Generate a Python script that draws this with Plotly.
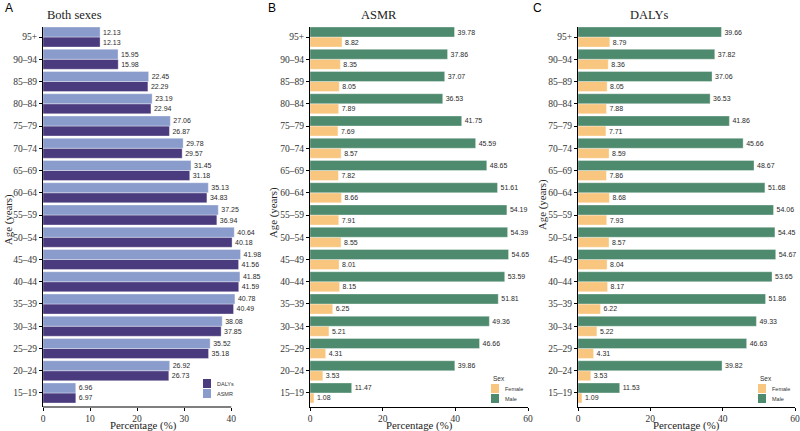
import plotly.graph_objects as go

# age groups, top to bottom as printed
ages = ["95+", "90–94", "85–89", "80–84", "75–79", "70–74", "65–69", "60–64", "55–59",
        "50–54", "45–49", "40–44", "35–39", "30–34", "25–29", "20–24", "15–19"]

# panel A: both sexes
both_asmr = [12.13, 15.95, 22.45, 23.19, 27.06, 29.78, 31.45, 35.13, 37.25,
             40.64, 41.98, 41.85, 40.78, 38.08, 35.52, 26.92, 6.96]
both_dalys = [12.13, 15.98, 22.29, 22.94, 26.87, 29.57, 31.18, 34.83, 36.94,
              40.18, 41.56, 41.59, 40.49, 37.85, 35.18, 26.73, 6.97]

# panel B: ASMR by sex
asmr_male = [39.78, 37.86, 37.07, 36.53, 41.75, 45.59, 48.65, 51.61, 54.19,
             54.39, 54.65, 53.59, 51.81, 49.36, 46.66, 39.86, 11.47]
asmr_female = [8.82, 8.35, 8.05, 7.89, 7.69, 8.57, 7.82, 8.66, 7.91,
               8.55, 8.01, 8.15, 6.25, 5.21, 4.31, 3.53, 1.08]

# panel C: DALYs by sex
dalys_male = [39.66, 37.82, 37.06, 36.53, 41.86, 45.66, 48.67, 51.68, 54.06,
              54.45, 54.67, 53.65, 51.86, 49.33, 46.63, 39.82, 11.53]
dalys_female = [8.79, 8.36, 8.05, 7.88, 7.71, 8.59, 7.86, 8.68, 7.93,
                8.57, 8.04, 8.17, 6.22, 5.22, 4.31, 3.53, 1.09]

W, H = 800, 431
SERIF = "Liberation Serif, Times New Roman, serif"
SANS = "Liberation Sans, Arial, sans-serif"
C_DALYS, C_ASMR = "#4a3a7e", "#8a9ccc"
C_MALE, C_FEMALE = "#4e8a6e", "#f8c67e"


def px(x):
    return x / W


def py(y):
    return 1 - y / H


def bar(vals, name, color, xa, ya):
    return go.Bar(y=ages, x=vals, name=name, orientation="h", xaxis=xa, yaxis=ya,
                  marker=dict(color=color, line=dict(color="rgba(255,255,255,0.7)", width=0.5)),
                  text=[f"{v:.2f}" for v in vals], textposition="outside",
                  textfont=dict(family=SANS, size=7, color="#2a2a2a"),
                  constraintext="none", cliponaxis=False, showlegend=False,
                  hoverinfo="x+y+name")


fig = go.Figure()
# lower bar of each pair first (plotly stacks groups bottom-up)
fig.add_trace(bar(both_dalys, "DALYs", C_DALYS, "x", "y"))
fig.add_trace(bar(both_asmr, "ASMR", C_ASMR, "x", "y"))
fig.add_trace(bar(asmr_female, "Female", C_FEMALE, "x2", "y2"))
fig.add_trace(bar(asmr_male, "Male", C_MALE, "x2", "y2"))
fig.add_trace(bar(dalys_female, "Female", C_FEMALE, "x3", "y3"))
fig.add_trace(bar(dalys_male, "Male", C_MALE, "x3", "y3"))

ydom = [py(407), py(27)]
panels = [("", (43, 243), [0, 42.5], [0, 10, 20, 30, 40]),
          ("2", (310, 528), [0, 60], [0, 20, 40, 60]),
          ("3", (578, 795), [0, 60], [0, 20, 40, 60])]
axis_font = dict(family=SERIF, size=9.5, color="#333333")
for s, (x0, x1), rng, tv in panels:
    fig.layout["xaxis" + s] = dict(
        domain=[px(x0), px(x1)], range=rng, anchor="y" + s, tickvals=tv,
        showline=(s != ""), linecolor="black", linewidth=1, ticks="outside", ticklen=3,
        tickcolor="black", showgrid=False, zeroline=False, tickfont=axis_font,
        automargin=False, fixedrange=True)
    fig.layout["yaxis" + s] = dict(
        domain=ydom, anchor="x" + s, type="category", categoryorder="array",
        categoryarray=ages[::-1], range=[-0.63, 16.45], showline=True, linecolor="black",
        linewidth=1, ticks="outside", ticklen=3, tickcolor="black", showgrid=False,
        tickfont=axis_font, automargin=False, fixedrange=True)

# panel A x-axis line stops at the last break
fig.add_shape(type="line", xref="x", yref="y domain", x0=0, x1=40, y0=0, y1=0,
              line=dict(color="black", width=1))

title_font = dict(family=SERIF, size=10.8, color="#222222")
ann = []
for letter, x in [("A", 3), ("B", 266), ("C", 531)]:
    ann.append(dict(text=letter, x=px(x), y=py(8), xanchor="left", yanchor="middle",
                    font=dict(family=SANS, size=12, color="black")))
for title, x, anchor in [("Both sexes", 45, "left"), ("ASMR", 379, "center"), ("DALYs", 649, "center")]:
    ann.append(dict(text=title, x=px(x), y=py(15), xanchor=anchor, yanchor="middle",
                    font=dict(family=SERIF, size=12.5, color="#222222")))
for x, y in [(8, 220), (273, 213), (542, 205)]:
    ann.append(dict(text="Age (years)", x=px(x), y=py(y), textangle=-90, xanchor="center",
                    yanchor="middle", font=title_font))
for x in [143, 419, 686]:
    ann.append(dict(text="Percentage (%)", x=px(x), y=py(425.5), xanchor="center",
                    yanchor="middle", font=title_font))

# legends: small swatches + labels, drawn in paper space
leg_font = dict(family=SANS, size=5.5, color="#333333")
legends = [
    (203, None, [("DALYs", C_DALYS, 379), ("ASMR", C_ASMR, 389)]),
    (491, "Sex", [("Female", C_FEMALE, 384), ("Male", C_MALE, 394)]),
    (758, "Sex", [("Female", C_FEMALE, 384), ("Male", C_MALE, 394)]),
]
for lx, ltitle, items in legends:
    if ltitle:
        ann.append(dict(text=ltitle, x=px(lx), y=py(378), xanchor="left", yanchor="middle",
                        font=dict(family=SANS, size=6.5, color="#333333")))
    for name, color, top in items:
        fig.add_shape(type="rect", xref="paper", yref="paper", x0=px(lx), x1=px(lx + 8),
                      y0=py(top + 9), y1=py(top), fillcolor=color, line=dict(width=0))
        ann.append(dict(text=name, x=px(lx + 12), y=py(top + 4.5), xanchor="left",
                        yanchor="middle", font=leg_font))

for a in ann:
    a.update(xref="paper", yref="paper", showarrow=False)

fig.update_layout(
    width=W, height=H, margin=dict(l=0, r=0, t=0, b=0),
    paper_bgcolor="white", plot_bgcolor="white",
    barmode="group", bargap=0.1, bargroupgap=0,
    annotations=ann, showlegend=False,
)

# drop the browser's default body margin so the figure sits at the window origin
fig.write_html("out.html", config={"displayModeBar": False},
               post_script="document.body.style.margin='0';")
